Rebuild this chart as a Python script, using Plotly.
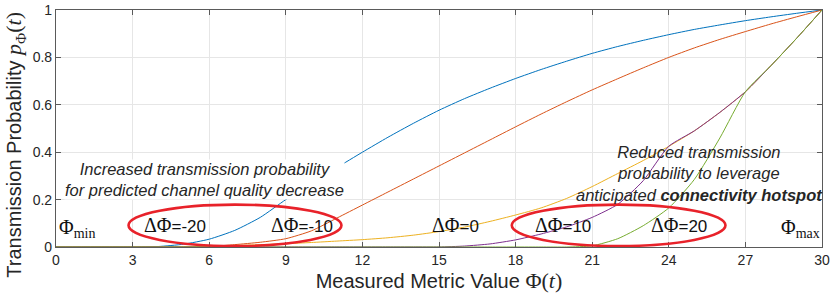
import plotly.graph_objects as go

# ---------------- data ----------------
phi = list(range(0, 31))

p_m20 = [0, 0, 0, 0, 0.002, 0.012, 0.033, 0.07, 0.125, 0.2, 0.268, 0.335, 0.4, 0.463, 0.522,
         0.577, 0.626, 0.67, 0.711, 0.749, 0.784, 0.817, 0.846, 0.872, 0.896, 0.918, 0.937,
         0.955, 0.971, 0.986, 1.0]
p_m10 = [0, 0, 0, 0, 0, 0, 0.002, 0.01, 0.02, 0.035, 0.068, 0.122, 0.177, 0.232, 0.287,
         0.342, 0.397, 0.452, 0.507, 0.561, 0.613, 0.663, 0.71, 0.756, 0.8, 0.84, 0.876,
         0.909, 0.941, 0.971, 1.0]
p_0 = [0, 0, 0, 0, 0, 0.001, 0.003, 0.006, 0.01, 0.014, 0.019, 0.025, 0.031, 0.039, 0.05,
       0.065, 0.084, 0.108, 0.135, 0.165, 0.205, 0.255, 0.31, 0.365, 0.425, 0.49, 0.568,
       0.655, 0.765, 0.88, 1.0]
p_10 = [0, 0, 0, 0, 0, 0, 0, 0, 0, 0, 0, 0, 0, 0, 0, 0, 0.004, 0.013, 0.03, 0.055, 0.085,
        0.125, 0.18, 0.28, 0.425, 0.49, 0.568, 0.655, 0.765, 0.88, 1.0]
p_20 = [0, 0, 0, 0, 0, 0, 0, 0, 0, 0, 0, 0, 0, 0, 0, 0, 0, 0, 0, 0, 0, 0.005, 0.035, 0.09,
        0.165, 0.285, 0.46, 0.655, 0.765, 0.88, 1.0]

series_names = ["ΔΦ=-20", "ΔΦ=-10", "ΔΦ=0", "ΔΦ=10", "ΔΦ=20"]
series_values = [p_m20, p_m10, p_0, p_10, p_20]
series_colors = ["#0072BD", "#D95319", "#EDB120", "#7E2F8E", "#77AC30"]

x_ticks = [0, 3, 6, 9, 12, 15, 18, 21, 24, 27, 30]
y_ticks = [0, 0.2, 0.4, 0.6, 0.8, 1]
y_tick_labels = ["0", "0.2", "0.4", "0.6", "0.8", "1"]

label_x = [4.66, 9.62, 15.63, 19.84, 24.4]
label_nums = ["-20", "-10", "0", "10", "20"]

SANS = "Liberation Sans, Arial, sans-serif"
SERIF = "Liberation Serif"

fig = go.Figure()
for name, vals, col in zip(series_names, series_values, series_colors):
    fig.add_trace(go.Scatter(x=phi, y=vals, mode="lines", name=name,
                             line=dict(color=col, width=1, shape="spline", smoothing=0.6),
                             showlegend=False))

# ellipses
for x0, x1 in [(2.84, 11.18), (17.85, 26.22)]:
    fig.add_shape(type="circle", xref="x", yref="y", x0=x0, x1=x1, y0=0.004, y1=0.179,
                  line=dict(color="#E8222A", width=2.6), layer="above")

# delta labels
for lx, num in zip(label_x, label_nums):
    fig.add_annotation(x=lx, y=0.092, xref="x", yref="y", showarrow=False,
                       text=f'<span style="font-family:{SERIF};font-size:20px">ΔΦ</span>={num}',
                       font=dict(family=SANS, size=17, color="#111111"))

# Phi min / max
fig.add_annotation(x=0.05, y=0.015, xref="x", yref="y", xanchor="left", yanchor="bottom",
                   showarrow=False, text="Φ<sub>min</sub>",
                   font=dict(family=SERIF, size=20, color="#111111"))
fig.add_annotation(x=30, y=0.015, xref="x", yref="y", xanchor="right", yanchor="bottom",
                   showarrow=False, text="Φ<sub>max</sub>",
                   font=dict(family=SERIF, size=20, color="#111111"))

# explanatory texts
fig.add_annotation(x=5.8, y=0.284, xref="x", yref="y", showarrow=False, align="center",
                   text="<i>Increased transmission probability<br>for predicted channel quality decrease</i>",
                   font=dict(family=SANS, size=16.5, color="#262626"), bgcolor="white",
                   borderpad=0)
fig.add_annotation(x=25.2, y=0.312, xref="x", yref="y", showarrow=False, align="center",
                   text="<i>Reduced transmission<br>probability to leverage<br>anticipated <b>connectivity hotspot</b></i>",
                   font=dict(family=SANS, size=16.5, color="#262626"), borderpad=0)

# y-axis title (as rotated annotation to match its placement)
fig.add_annotation(xref="paper", yref="paper", x=-0.0535, y=0.432, xanchor="center",
                   yanchor="middle", textangle=-90, showarrow=False,
                   text=f'Transmission Probability <span style="font-family:{SERIF};font-size:22px"><i>p</i><sub>Φ</sub>(<i>t</i>)</span>',
                   font=dict(family=SANS, size=20, color="#262626"))

axis_common = dict(showgrid=True, gridcolor="#E6E6E6", gridwidth=1, zeroline=False,
                   showline=True, linecolor="#5A5A5A", linewidth=1.2, mirror="ticks",
                   ticks="inside", ticklen=5, tickcolor="#5A5A5A", tickwidth=1.2,
                   automargin=False,
                   tickfont=dict(family=SANS, size=14, color="#262626"))

fig.update_xaxes(range=[0, 30], tickvals=x_ticks, **axis_common,
                 title=dict(text=f'Measured Metric Value <span style="font-family:{SERIF};font-size:22px">Φ(<i>t</i>)</span>',
                            font=dict(family=SANS, size=20, color="#262626"), standoff=5))
fig.update_yaxes(range=[0, 1], tickvals=y_ticks, ticktext=y_tick_labels, **axis_common)

fig.update_layout(width=830, height=298, margin=dict(l=56, r=8, t=10, b=51),
                  plot_bgcolor="white", paper_bgcolor="white")

fig.write_html("out.html", config={"displayModeBar": False},
               post_script="document.body.style.margin='0';document.body.style.overflow='hidden';")
